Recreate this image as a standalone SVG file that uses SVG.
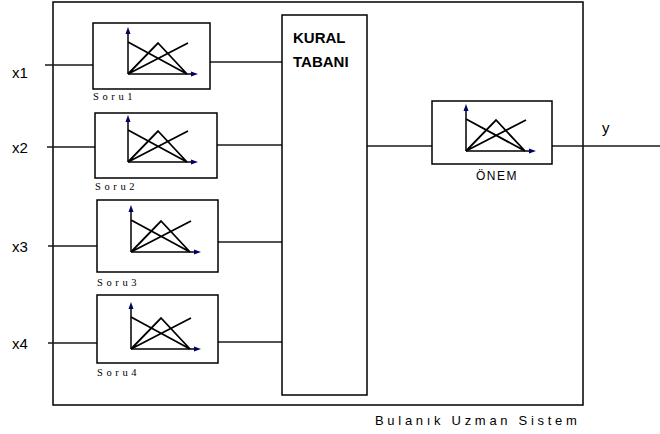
<svg xmlns="http://www.w3.org/2000/svg" xmlns:xlink="http://www.w3.org/1999/xlink" width="660" height="434" viewBox="0 0 660 434">
<style>
.box{fill:#fff;stroke:#000;stroke-width:1.5}
.ln{stroke:#1a1a1a;stroke-width:1.5;fill:none}
.mf{stroke:#000;stroke-width:1.8;fill:none}
.ax{stroke:#000;stroke-width:1.5;fill:none}
.ah{fill:#000066}
.io{font-family:"Liberation Sans",Arial,sans-serif;font-size:15px;fill:#000}
.sl{font-family:"Liberation Serif","Times New Roman",serif;font-size:10.5px;letter-spacing:3.6px;fill:#000}
</style>
<defs>
<g id="mficon">
<path class="ax" d="M0 0V-42M0 0H65"/>
<polygon class="ah" points="0,-47 -2.5,-40 2.5,-40"/>
<polygon class="ah" points="70,0 63,-2.5 63,2.5"/>
<path class="mf" d="M0 0L30 -31L59 0M0 -32L59 0M0 0L60 -31"/>
</g>
</defs>
<rect id="system" x="53" y="2" width="530" height="403" fill="none" stroke="#000" stroke-width="1.5"/>
<g id="connectors">
<path class="ln" d="M45 65H93M47 147H95M48 246H97M48 343H97"/>
<path class="ln" d="M210 62H282M217 145H282M218 242H282M218 342H282"/>
<path class="ln" d="M367 146H432M552 146H660"/>
</g>
<g id="in-x1"><text class="io" x="12" y="78">x1</text></g>
<g id="in-x2"><text class="io" x="12" y="153">x2</text></g>
<g id="in-x3"><text class="io" x="12" y="252">x3</text></g>
<g id="in-x4"><text class="io" x="12" y="349">x4</text></g>
<g id="soru1">
<rect class="box" x="93" y="23" width="117" height="66"/>
<use xlink:href="#mficon" href="#mficon" transform="translate(128,74)"/>
<text class="sl" x="93" y="100">Soru1</text>
</g>
<g id="soru2">
<rect class="box" x="95" y="113" width="122" height="65"/>
<use xlink:href="#mficon" href="#mficon" transform="translate(128,162)"/>
<text class="sl" x="95" y="190">Soru2</text>
</g>
<g id="soru3">
<rect class="box" x="97" y="200" width="121" height="72"/>
<use xlink:href="#mficon" href="#mficon" transform="translate(131,252)"/>
<text class="sl" x="97" y="286">Soru3</text>
</g>
<g id="soru4">
<rect class="box" x="97" y="295" width="121" height="68"/>
<use xlink:href="#mficon" href="#mficon" transform="translate(131,349)"/>
<text class="sl" x="97" y="376">Soru4</text>
</g>
<g id="kural">
<rect class="box" x="282" y="15" width="85" height="380"/>
<text x="293" y="43" font-family="'Liberation Sans',Arial,sans-serif" font-size="15" font-weight="bold">KURAL</text>
<text x="293" y="67" font-family="'Liberation Sans',Arial,sans-serif" font-size="15" font-weight="bold">TABANI</text>
</g>
<g id="onem">
<rect class="box" x="432" y="101" width="120" height="63"/>
<use xlink:href="#mficon" href="#mficon" transform="translate(466,151)"/>
<text x="497" y="180" text-anchor="middle" font-family="'Liberation Sans',Arial,sans-serif" font-size="12" letter-spacing="1.5">ÖNEM</text>
</g>
<g id="out-y"><text class="io" x="602" y="133">y</text></g>
<text x="375" y="425" font-family="'Liberation Sans',Arial,sans-serif" font-size="13" letter-spacing="3.7">Bulanık Uzman Sistem</text>
</svg>
